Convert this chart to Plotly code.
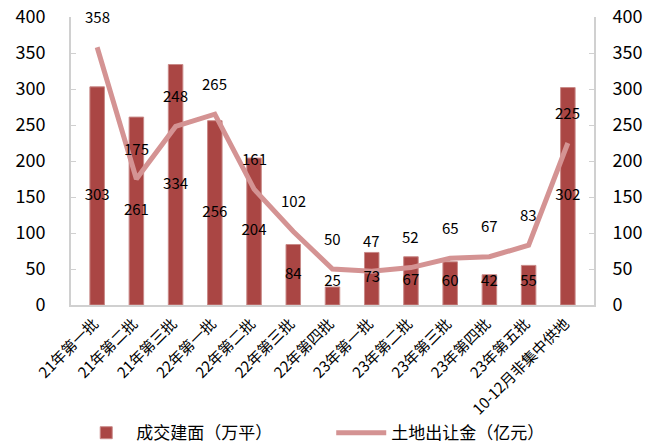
import numpy as np
import plotly.graph_objects as go

categories = ["21年第一批", "21年第二批", "21年第三批", "22年第一批", "22年第二批", "22年第三批",
              "22年第四批", "23年第一批", "23年第二批", "23年第三批", "23年第四批", "23年第五批",
              "10-12月非集中供地"]
area = [303, 261, 334, 256, 204, 84, 25, 73, 67, 60, 42, 55, 302]
money = [358, 175, 248, 265, 161, 102, 50, 47, 52, 65, 67, 83, 225]
tick_vals = [0, 50, 100, 150, 200, 250, 300, 350, 400]

FONT = "Noto Sans CJK SC"
BAR_COLOR = "#AA4644"
LINE_COLOR = "#D49393"
AXIS_COLOR = "#D0D0D0"

fig = go.Figure()
fig.add_trace(go.Bar(
    x=categories, y=area, name="成交建面（万平）",
    marker=dict(color=BAR_COLOR, line=dict(color="#C98A88", width=1)),
    yaxis="y",
))
fig.add_trace(go.Scatter(
    x=categories, y=money, name="土地出让金（亿元）", mode="lines",
    line=dict(color=LINE_COLOR, width=5), yaxis="y2",
))
# bar value labels (centre of bar, with a floor for short bars); same 0-400 scale on y2 so they sit above the line
fig.add_trace(go.Scatter(
    x=categories, y=np.maximum(np.array(area) / 2, 32), mode="text",
    text=[str(v) for v in area], textfont=dict(family=FONT, size=15, color="#000"),
    showlegend=False, hoverinfo="skip", yaxis="y2", cliponaxis=False,
))
# line value labels above the points
for c, v in zip(categories, money):
    fig.add_annotation(x=c, y=v, yref="y2", xref="x", text=str(v), showarrow=False,
                       yshift=31, font=dict(family=FONT, size=15, color="#000"))

fig.update_layout(
    width=646, height=444,
    margin=dict(l=71, r=52, t=17, b=139, autoexpand=False),
    paper_bgcolor="white", plot_bgcolor="white",
    font=dict(family=FONT, color="#000"),
    bargap=0.63,
    xaxis=dict(showline=True, linecolor=AXIS_COLOR, linewidth=2, ticks="", tickangle=-45,
               tickfont=dict(family=FONT, size=15), showgrid=False, zeroline=False,
               automargin=False, ticklabelstandoff=2, ticklabelshift=-3),
    yaxis=dict(range=[0, 400], tickvals=tick_vals, showline=True, linecolor=AXIS_COLOR,
               linewidth=2, ticks="inside", ticklen=5, tickcolor=AXIS_COLOR,
               tickfont=dict(family=FONT, size=18), showgrid=False, zeroline=False,
               ticklabelstandoff=20, automargin=False),
    yaxis2=dict(range=[0, 400], tickvals=tick_vals, overlaying="y", side="right",
                showline=True, linecolor=AXIS_COLOR, linewidth=2, ticks="inside",
                ticklen=5, tickcolor=AXIS_COLOR, tickfont=dict(family=FONT, size=18),
                showgrid=False, zeroline=False, ticklabelstandoff=13, automargin=False),
    legend=dict(orientation="h", x=0.01, y=-0.445, xanchor="left", yanchor="middle",
                font=dict(family=FONT, size=17), entrywidth=190, entrywidthmode="pixels",
                traceorder="normal", itemwidth=50),
    showlegend=True,
)

fig.write_html("out.html")
